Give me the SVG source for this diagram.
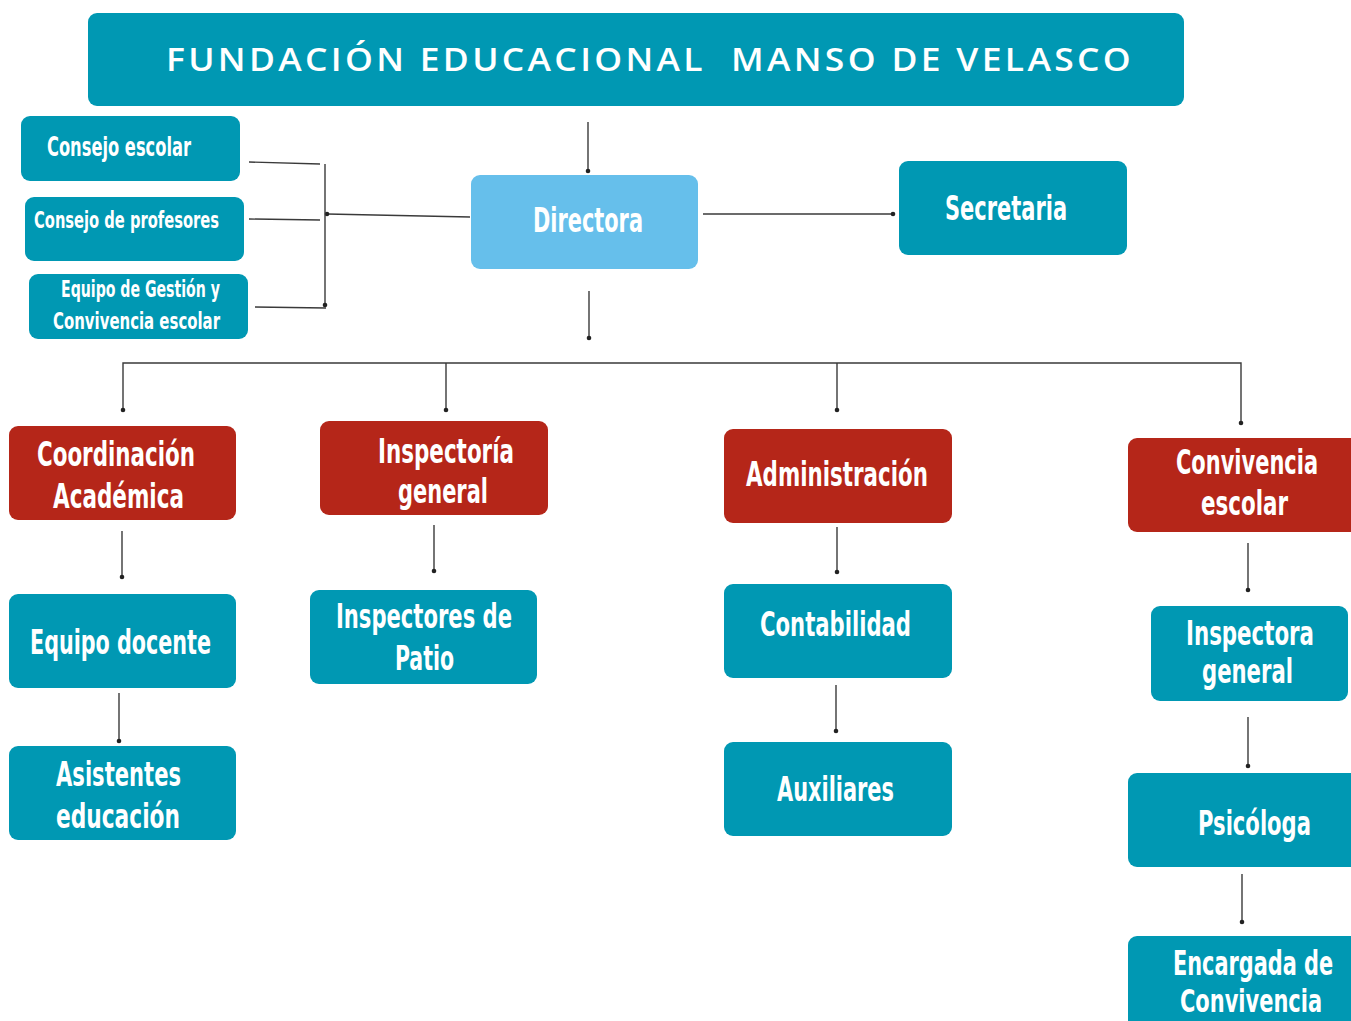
<svg xmlns="http://www.w3.org/2000/svg" width="1351" height="1021" viewBox="0 0 1351 1021">
<defs>
<marker id="dot" markerWidth="6" markerHeight="6" refX="3" refY="3" markerUnits="userSpaceOnUse">
<circle cx="3" cy="3" r="2.3" fill="#222"/>
</marker>
<style>
.teal{fill:#0098b3}
.red{fill:#b52619}
.light{fill:#66bfeb}
.t{font-family:"Liberation Sans Narrow","DejaVu Sans Condensed","Liberation Sans",sans-serif;font-weight:bold;fill:#fff}
.title{font-family:"Open Sans","Liberation Sans",sans-serif;font-weight:600;fill:#fff;font-size:32px;letter-spacing:3px}
.c{stroke:#3a3a3a;stroke-width:1.4;fill:none}
.m{marker-end:url(#dot)}
</style>
</defs>
<rect width="1351" height="1021" fill="#fff"/>

<g id="connectors">
<line class="c m" x1="588" y1="122" x2="588" y2="171"/>
<line class="c m" x1="470" y1="217" x2="327" y2="214"/>
<line class="c m" x1="325" y1="164" x2="325" y2="305"/>
<line class="c" x1="249" y1="162" x2="320" y2="164"/>
<line class="c" x1="249" y1="219" x2="320" y2="220"/>
<line class="c" x1="255" y1="307" x2="326" y2="308"/>
<line class="c m" x1="703" y1="214" x2="893" y2="214"/>
<line class="c m" x1="589" y1="291" x2="589" y2="338"/>
<polyline class="c" points="123,410 123,363 1241,363 1241,423"/>
<circle cx="123" cy="410" r="2.3" fill="#222"/>
<circle cx="1241" cy="423" r="2.3" fill="#222"/>
<line class="c m" x1="446" y1="363" x2="446" y2="410"/>
<line class="c m" x1="837" y1="363" x2="837" y2="410"/>
<line class="c m" x1="122" y1="531" x2="122" y2="577"/>
<line class="c m" x1="119" y1="693" x2="119" y2="741"/>
<line class="c m" x1="434" y1="525" x2="434" y2="571"/>
<line class="c m" x1="837" y1="527" x2="837" y2="572"/>
<line class="c m" x1="836" y1="685" x2="836" y2="731"/>
<line class="c m" x1="1248" y1="543" x2="1248" y2="590"/>
<line class="c m" x1="1248" y1="717" x2="1248" y2="766"/>
<line class="c m" x1="1242" y1="874" x2="1242" y2="922"/>
</g>

<g id="title"><rect class="teal" x="88" y="13" width="1096" height="93" rx="9"/>
<text class="title" x="166" y="71" textLength="968" lengthAdjust="spacingAndGlyphs">FUNDACIÓN EDUCACIONAL&#160; MANSO DE VELASCO</text></g>

<g id="consejo-escolar"><rect class="teal" x="21" y="116" width="219" height="65" rx="9"/>
<text class="t" transform="translate(47,156) scale(0.7,1)" font-size="27" textLength="205.7" lengthAdjust="spacingAndGlyphs">Consejo escolar</text></g>

<g id="consejo-profesores"><rect class="teal" x="25" y="197" width="219" height="64" rx="9"/>
<text class="t" transform="translate(34,228) scale(0.7,1)" font-size="23" textLength="264.3" lengthAdjust="spacingAndGlyphs">Consejo de profesores</text></g>

<g id="equipo-gestion"><rect class="teal" x="29" y="274" width="219" height="65" rx="9"/>
<text class="t" transform="translate(61,297) scale(0.7,1)" font-size="23" textLength="227.1" lengthAdjust="spacingAndGlyphs">Equipo de Gestión y</text>
<text class="t" transform="translate(53,329) scale(0.7,1)" font-size="23" textLength="238.6" lengthAdjust="spacingAndGlyphs">Convivencia escolar</text></g>

<g id="directora"><rect class="light" x="471" y="175" width="227" height="94" rx="9"/>
<text class="t" transform="translate(533,232) scale(0.7,1)" font-size="34" textLength="157.1" lengthAdjust="spacingAndGlyphs">Directora</text></g>

<g id="secretaria"><rect class="teal" x="899" y="161" width="228" height="94" rx="9"/>
<text class="t" transform="translate(945,220) scale(0.7,1)" font-size="34" textLength="174.3" lengthAdjust="spacingAndGlyphs">Secretaria</text></g>

<g id="coordinacion"><rect class="red" x="9" y="426" width="227" height="94" rx="9"/>
<text class="t" transform="translate(37,466) scale(0.7,1)" font-size="34" textLength="225.7" lengthAdjust="spacingAndGlyphs">Coordinación</text>
<text class="t" transform="translate(53,508) scale(0.7,1)" font-size="34" textLength="187.1" lengthAdjust="spacingAndGlyphs">Académica</text></g>

<g id="inspectoria"><rect class="red" x="320" y="421" width="228" height="94" rx="9"/>
<text class="t" transform="translate(378,463) scale(0.7,1)" font-size="34" textLength="194.3" lengthAdjust="spacingAndGlyphs">Inspectoría</text>
<text class="t" transform="translate(398,503) scale(0.7,1)" font-size="34" textLength="128.6" lengthAdjust="spacingAndGlyphs">general</text></g>

<g id="administracion"><rect class="red" x="724" y="429" width="228" height="94" rx="9"/>
<text class="t" transform="translate(746,486) scale(0.7,1)" font-size="34" textLength="260" lengthAdjust="spacingAndGlyphs">Administración</text></g>

<g id="convivencia"><rect class="red" x="1128" y="438" width="232" height="94" rx="9"/>
<text class="t" transform="translate(1176,474) scale(0.7,1)" font-size="34" textLength="202.9" lengthAdjust="spacingAndGlyphs">Convivencia</text>
<text class="t" transform="translate(1201,515) scale(0.7,1)" font-size="34" textLength="124.3" lengthAdjust="spacingAndGlyphs">escolar</text></g>

<g id="equipo-docente"><rect class="teal" x="9" y="594" width="227" height="94" rx="9"/>
<text class="t" transform="translate(30,654) scale(0.7,1)" font-size="34" textLength="258.6" lengthAdjust="spacingAndGlyphs">Equipo docente</text></g>

<g id="asistentes"><rect class="teal" x="9" y="746" width="227" height="94" rx="9"/>
<text class="t" transform="translate(56,786) scale(0.7,1)" font-size="34" textLength="178.6" lengthAdjust="spacingAndGlyphs">Asistentes</text>
<text class="t" transform="translate(56,828) scale(0.7,1)" font-size="34" textLength="177.1" lengthAdjust="spacingAndGlyphs">educación</text></g>

<g id="inspectores"><rect class="teal" x="310" y="590" width="227" height="94" rx="9"/>
<text class="t" transform="translate(336,628) scale(0.7,1)" font-size="34" textLength="251.4" lengthAdjust="spacingAndGlyphs">Inspectores de</text>
<text class="t" transform="translate(395,670) scale(0.7,1)" font-size="34" textLength="84.3" lengthAdjust="spacingAndGlyphs">Patio</text></g>

<g id="contabilidad"><rect class="teal" x="724" y="584" width="228" height="94" rx="9"/>
<text class="t" transform="translate(760,636) scale(0.7,1)" font-size="34" textLength="215.7" lengthAdjust="spacingAndGlyphs">Contabilidad</text></g>

<g id="auxiliares"><rect class="teal" x="724" y="742" width="228" height="94" rx="9"/>
<text class="t" transform="translate(777,801) scale(0.7,1)" font-size="34" textLength="167.1" lengthAdjust="spacingAndGlyphs">Auxiliares</text></g>

<g id="inspectora"><rect class="teal" x="1151" y="606" width="197" height="95" rx="9"/>
<text class="t" transform="translate(1186,645) scale(0.7,1)" font-size="34" textLength="182.9" lengthAdjust="spacingAndGlyphs">Inspectora</text>
<text class="t" transform="translate(1202,683) scale(0.7,1)" font-size="34" textLength="130" lengthAdjust="spacingAndGlyphs">general</text></g>

<g id="psicologa"><rect class="teal" x="1128" y="773" width="232" height="94" rx="9"/>
<text class="t" transform="translate(1198,835) scale(0.7,1)" font-size="34" textLength="161.4" lengthAdjust="spacingAndGlyphs">Psicóloga</text></g>

<g id="encargada"><rect class="teal" x="1128" y="936" width="232" height="100" rx="9"/>
<text class="t" transform="translate(1173,975) scale(0.7,1)" font-size="34" textLength="228.6" lengthAdjust="spacingAndGlyphs">Encargada de</text>
<text class="t" transform="translate(1180,1012) scale(0.7,1)" font-size="32" textLength="202.9" lengthAdjust="spacingAndGlyphs">Convivencia</text></g>
</svg>
